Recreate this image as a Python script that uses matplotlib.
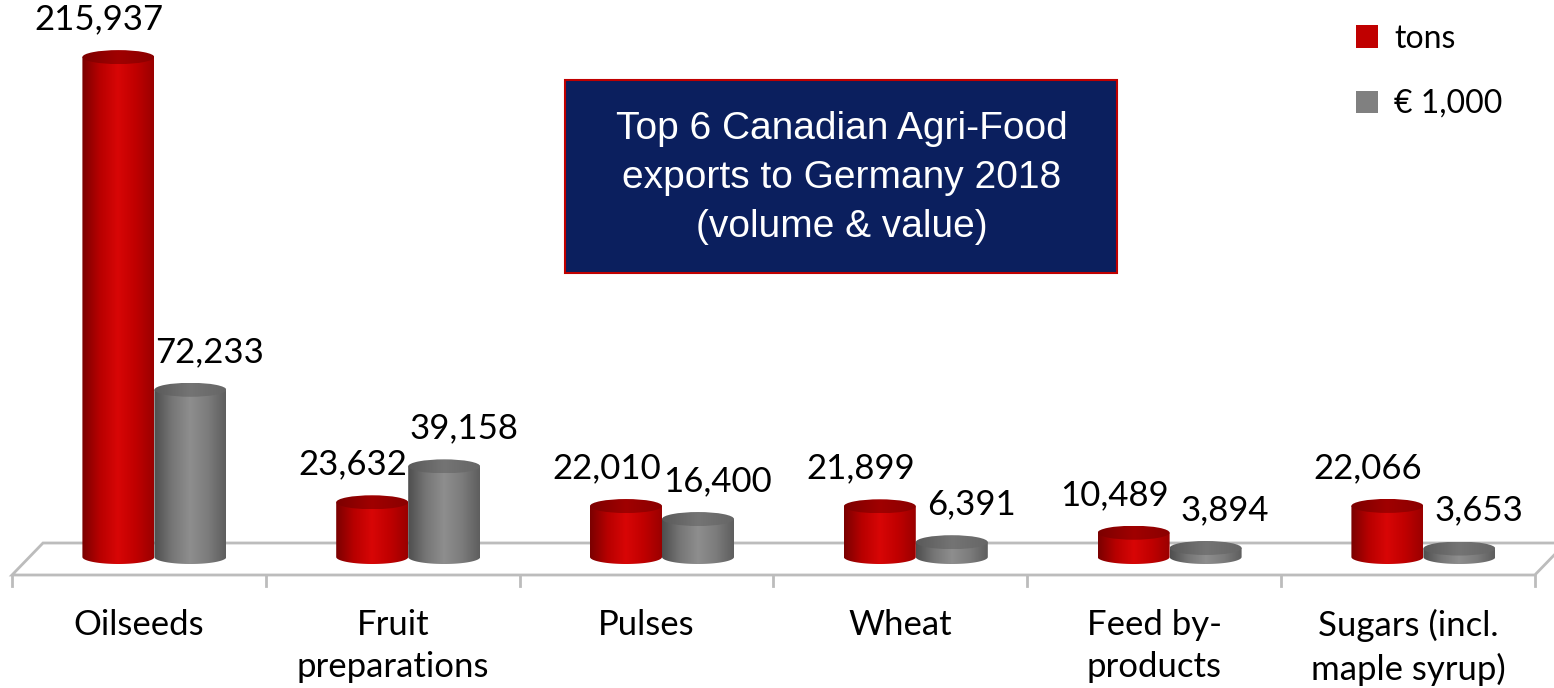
import numpy as np
import matplotlib
matplotlib.use('Agg')
import matplotlib.pyplot as plt
from matplotlib.patches import Ellipse, Polygon, Rectangle, Patch
from matplotlib.colors import LinearSegmentedColormap

# data
categories = ['Oilseeds', 'Fruit\npreparations', 'Pulses', 'Wheat',
              'Feed by-\nproducts', 'Sugars (incl.\nmaple syrup)']
tons = [215937, 23632, 22010, 21899, 10489, 22066]
eur_1000 = [72233, 39158, 16400, 6391, 3894, 3653]
series_names = ['tons', '€ 1,000']
title = 'Top 6 Canadian Agri-Food\nexports to Germany 2018\n(volume & value)'

plt.rcParams['font.family'] = ['Lato', 'DejaVu Sans']

# layout of the fake 3D floor (pixels)
W, H = 1554, 688
slot_px = 253.8      # width of one category on the front edge
x0_px = 12           # left front corner
base_px = 557        # pixel row of value 0
scale = 0.002315     # pixels per unit
depth_px = 31
bar_px = 72
ell_px = 7           # half height of the cylinder ellipses

def px_x(d):
    return d / slot_px

def px_y(d):
    return d / scale

red_body = LinearSegmentedColormap.from_list('rb', ['#7a0000', '#b80000', '#d80606', '#c00000', '#9a0000'])
red_top = LinearSegmentedColormap.from_list('rt', ['#7c0000', '#a00000', '#8a0000'])
gray_body = LinearSegmentedColormap.from_list('gb', ['#4e4e4e', '#767676', '#8e8e8e', '#7c7c7c', '#5e5e5e'])
gray_top = LinearSegmentedColormap.from_list('gt', ['#5a5a5a', '#747474', '#666666'])


def cylinder(ax, xc, h, cmap_body, cmap_top, z):
    a = px_x(bar_px) / 2
    b = px_y(ell_px)
    t = np.linspace(np.pi, 2 * np.pi, 80)
    verts = [(xc - a, h)] + list(zip(xc + a * np.cos(t), b * np.sin(t))) + [(xc + a, h)]
    body = Polygon(verts, closed=True, facecolor='none', edgecolor='none')
    ax.add_patch(body)
    grad = np.linspace(0, 1, 256).reshape(1, -1)
    im = ax.imshow(grad, cmap=cmap_body, extent=[xc - a, xc + a, -b, h],
                   aspect='auto', zorder=z, interpolation='bilinear')
    im.set_clip_path(body)
    top = Ellipse((xc, h), 2 * a, 2 * b, facecolor='none', edgecolor='none')
    ax.add_patch(top)
    im2 = ax.imshow(grad, cmap=cmap_top, extent=[xc - a, xc + a, h - b, h + b],
                    aspect='auto', zorder=z + 0.1, interpolation='bilinear')
    im2.set_clip_path(top)


fig = plt.figure(figsize=(W / 100, H / 100), dpi=100)
ax = fig.add_axes([0, 0, 1, 1])

n = len(categories)
front = px_y(-18)
back = px_y(14)
dx = px_x(depth_px)

floor = Polygon([(0, front), (n, front), (n + dx, back), (dx, back)], closed=True,
                facecolor='white', edgecolor='#bcbcbc', lw=2, zorder=1)
ax.add_patch(floor)
for i in range(n + 1):
    ax.plot([i, i], [front, front - px_y(11)], color='#bcbcbc', lw=2, zorder=1)

w = px_x(bar_px)
for i in range(n):
    pc = i + 0.5 + dx / 2
    xr, xg = pc - w / 2, pc + w / 2
    cylinder(ax, xr, tons[i], red_body, red_top, 3 + i)
    cylinder(ax, xg, eur_1000[i], gray_body, gray_top, 3.5 + i)
    top_off = px_y(ell_px)
    ax.annotate(f'{tons[i]:,}', (xr, tons[i] + top_off), xytext=(-14, 15),
                textcoords='offset points', ha='center', va='baseline',
                fontsize=25, zorder=20)
    ax.annotate(f'{eur_1000[i]:,}', (xg, eur_1000[i] + top_off), xytext=(14, 15),
                textcoords='offset points', ha='center', va='baseline',
                fontsize=25, zorder=20)
    ax.text(i + 0.5, px_y(-52), categories[i], ha='center', va='top',
            fontsize=25, linespacing=1.4)

ax.set_xlim(-px_x(x0_px), px_x(W - x0_px))
ax.set_ylim(px_y(base_px - H), px_y(base_px))
ax.axis('off')

# title box
fig.add_artist(Rectangle((565 / W, 1 - 273 / H), (1117 - 565) / W, (273 - 80) / H,
                         transform=fig.transFigure, facecolor='#0b1f5e',
                         edgecolor='#c00000', lw=1.5, zorder=5))
fig.text(842 / W, 1 - 178 / H, title, ha='center', va='center', color='white',
         fontsize=28, linespacing=1.45, zorder=6,
         family=['Liberation Sans Narrow', 'Liberation Sans'])

handles = [Patch(facecolor='#c00000'), Patch(facecolor='#808080')]
fig.legend(handles, series_names, loc='upper left', bbox_to_anchor=(1327 / W, 1 + 5 / H),
           frameon=False, fontsize=23, handlelength=0.7, handleheight=0.7,
           handletextpad=0.5, labelspacing=1.1)

fig.savefig('out.png', dpi=100)
